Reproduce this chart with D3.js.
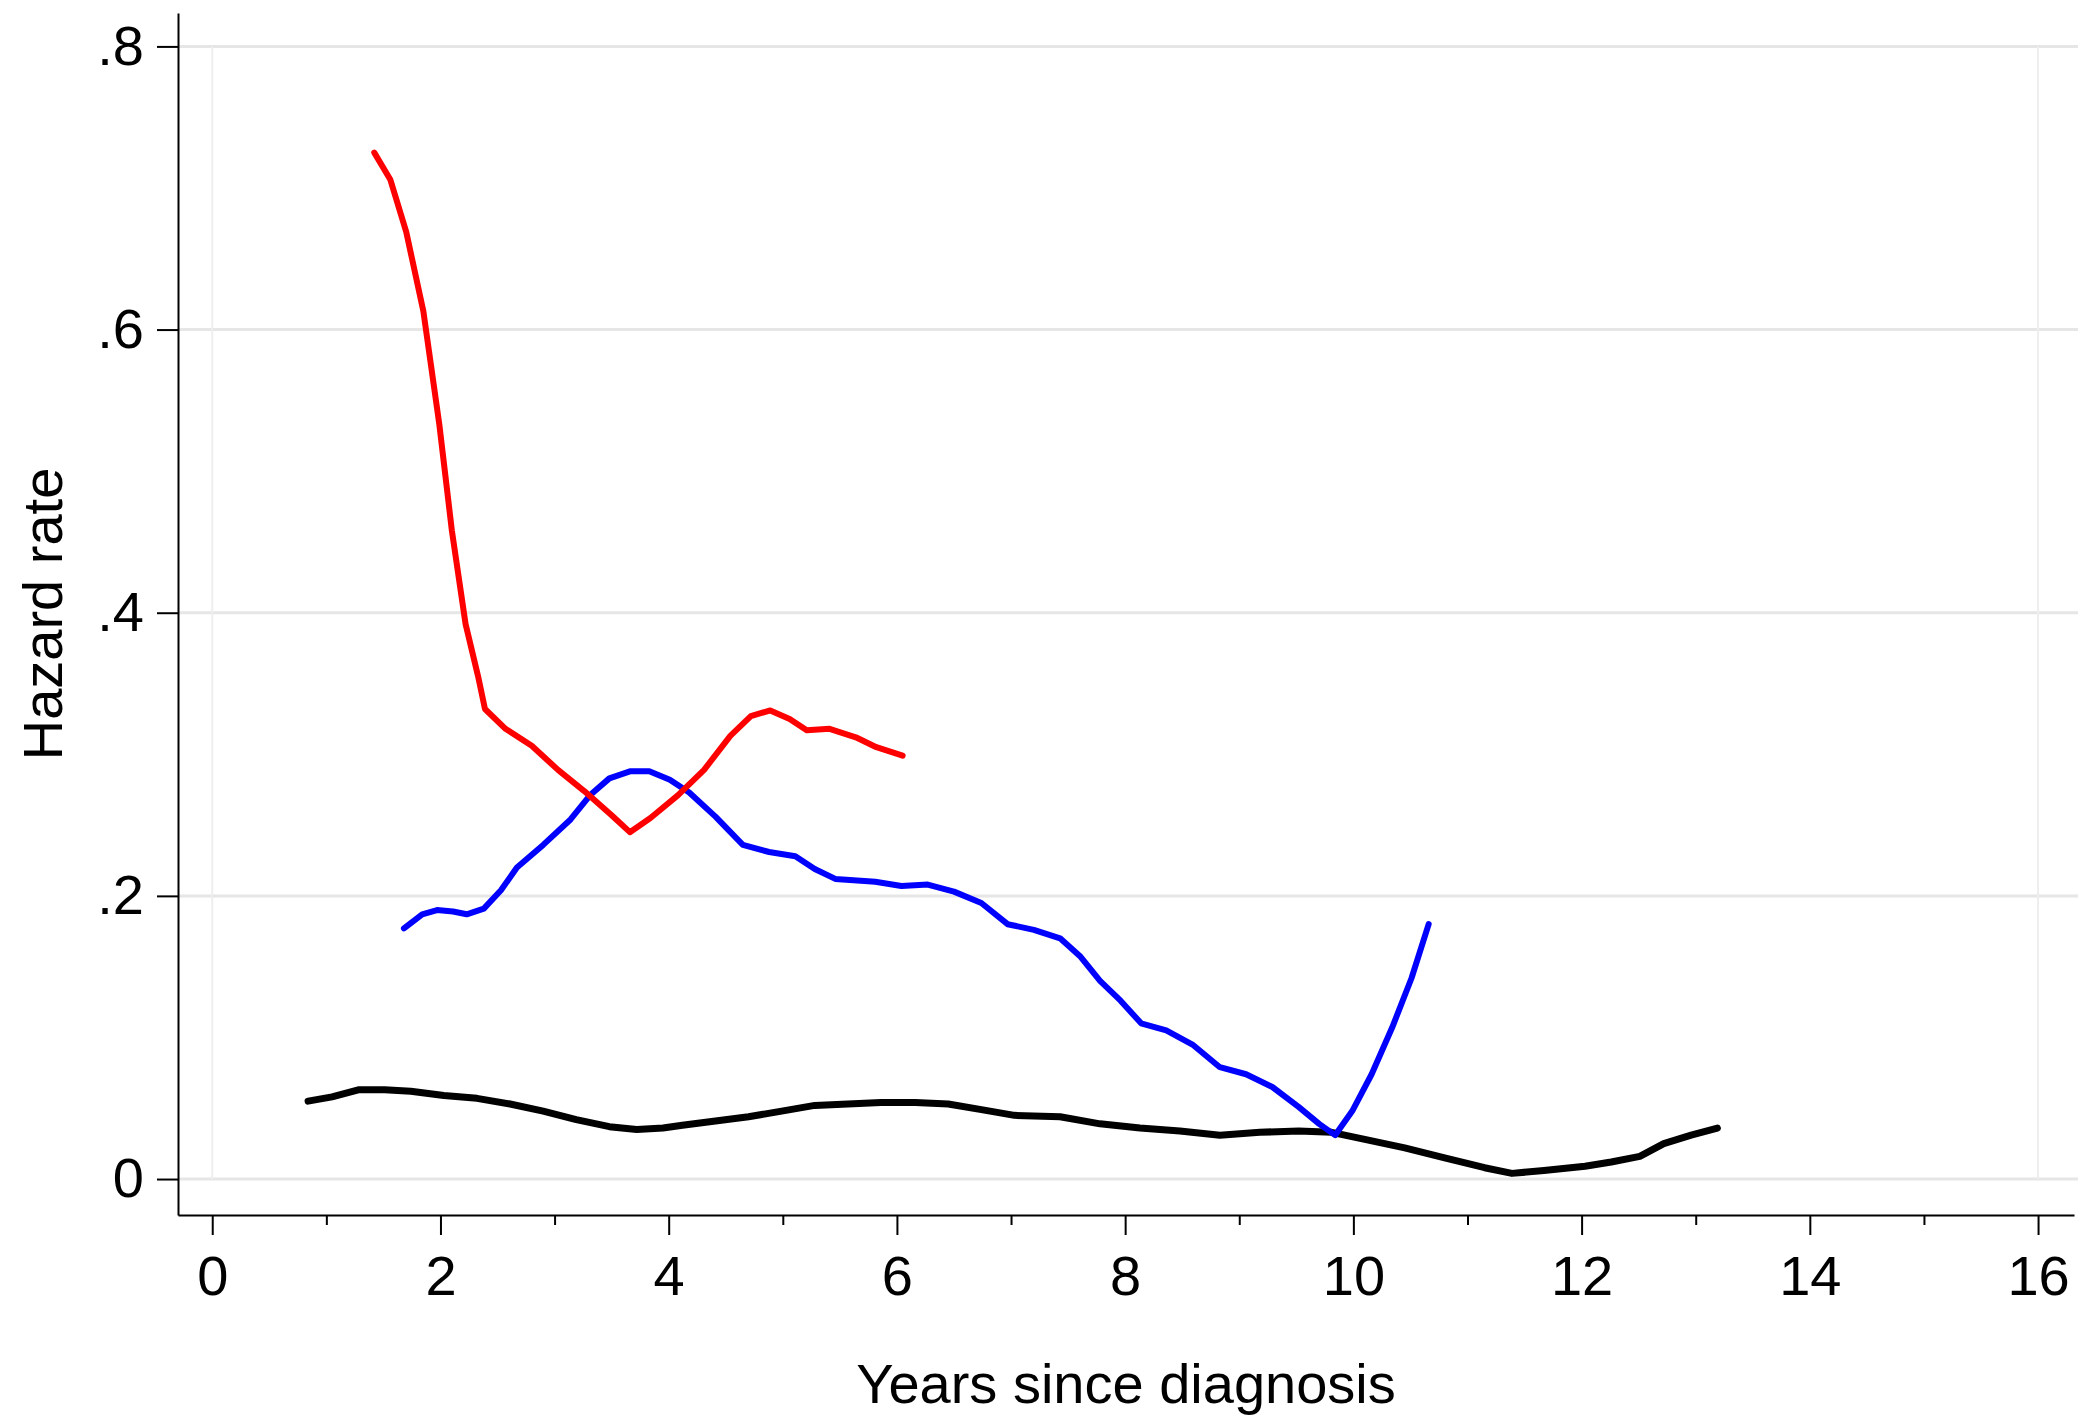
<!DOCTYPE html>
<html>
<head>
<meta charset="utf-8">
<script src="https://cdn.jsdelivr.net/npm/d3@7"></script>
<style>
  body { margin: 0; background: #fff; }
  svg { display: block; font-family: "Liberation Sans", Arial, sans-serif; }
</style>
</head>
<body>
<div id="chart"></div>
<script>
// ---- data ----
const xTicks = [0, 2, 4, 6, 8, 10, 12, 14, 16];
const xMinorTicks = [1, 3, 5, 7, 9, 11, 13, 15];
const yTicks = [0, 0.2, 0.4, 0.6, 0.8];

const redYears = [1.42, 1.56, 1.70, 1.85, 1.99, 2.10, 2.22, 2.33, 2.39, 2.57, 2.80, 3.03, 3.26, 3.50, 3.66, 3.84, 4.08, 4.31, 4.54, 4.72, 4.89, 5.06, 5.21, 5.41, 5.64, 5.82, 6.05];
const redHazard = [0.725, 0.706, 0.669, 0.613, 0.533, 0.458, 0.392, 0.355, 0.332, 0.318, 0.306, 0.289, 0.274, 0.257, 0.245, 0.255, 0.271, 0.289, 0.313, 0.327, 0.331, 0.325, 0.317, 0.318, 0.312, 0.305, 0.299];

const blueYears = [1.68, 1.84, 1.97, 2.11, 2.23, 2.38, 2.53, 2.67, 2.90, 3.14, 3.31, 3.48, 3.66, 3.83, 4.01, 4.18, 4.41, 4.65, 4.88, 5.11, 5.28, 5.46, 5.81, 6.04, 6.27, 6.50, 6.74, 6.97, 7.20, 7.43, 7.61, 7.78, 7.96, 8.14, 8.36, 8.59, 8.83, 9.06, 9.29, 9.52, 9.70, 9.84, 9.99, 10.16, 10.34, 10.51, 10.66];
const blueHazard = [0.177, 0.187, 0.190, 0.189, 0.187, 0.191, 0.204, 0.220, 0.236, 0.254, 0.271, 0.283, 0.288, 0.288, 0.282, 0.273, 0.256, 0.236, 0.231, 0.228, 0.219, 0.212, 0.210, 0.207, 0.208, 0.203, 0.195, 0.180, 0.176, 0.170, 0.157, 0.140, 0.126, 0.110, 0.105, 0.095, 0.079, 0.074, 0.065, 0.051, 0.039, 0.031, 0.048, 0.074, 0.107, 0.142, 0.180];

const blackYears = [0.84, 1.05, 1.28, 1.51, 1.74, 2.03, 2.32, 2.61, 2.90, 3.19, 3.48, 3.72, 3.95, 4.12, 4.41, 4.70, 4.99, 5.28, 5.57, 5.86, 6.16, 6.45, 6.74, 7.03, 7.43, 7.78, 8.13, 8.48, 8.83, 9.18, 9.52, 9.81, 10.10, 10.45, 10.80, 11.15, 11.39, 11.67, 12.03, 12.26, 12.51, 12.72, 12.96, 13.19];
const blackHazard = [0.055, 0.058, 0.063, 0.063, 0.062, 0.059, 0.057, 0.053, 0.048, 0.042, 0.037, 0.035, 0.036, 0.038, 0.041, 0.044, 0.048, 0.052, 0.053, 0.054, 0.054, 0.053, 0.049, 0.045, 0.044, 0.039, 0.036, 0.034, 0.031, 0.033, 0.034, 0.033, 0.028, 0.022, 0.015, 0.008, 0.004, 0.006, 0.009, 0.012, 0.016, 0.025, 0.031, 0.036];

const series = [
  {name: 'black', years: blackYears, hazard: blackHazard, color: '#000000', width: 7},
  {name: 'blue', years: blueYears, hazard: blueHazard, color: '#0000ff', width: 6},
  {name: 'red', years: redYears, hazard: redHazard, color: '#ff0000', width: 6},
];

// ---- layout ----
const width = 2078, height = 1418;
const plot = {l: 178, r: 2074, t: 13, b: 1215};

const svg = d3.select('#chart').append('svg')
  .attr('width', width)
  .attr('height', height);

const x = d3.scaleLinear().domain([-0.3, 16.315]).range([plot.l, plot.r]);
const y = d3.scaleLinear().domain([-0.0254, 0.8236]).range([plot.b, plot.t]);

// gridlines
svg.append('g').selectAll('line')
  .data(yTicks)
  .join('line')
  .attr('x1', plot.l).attr('x2', width)
  .attr('y1', d => y(d)).attr('y2', d => y(d))
  .attr('stroke', '#e6e6e6')
  .attr('stroke-width', 3);

svg.append('g').selectAll('line')
  .data([0, 16])
  .join('line')
  .attr('x1', d => x(d)).attr('x2', d => x(d))
  .attr('y1', y(0.8)).attr('y2', y(0))
  .attr('stroke', '#eeeeee')
  .attr('stroke-width', 2);

// lines
const line = d3.line()
  .x(d => x(d[0]))
  .y(d => y(d[1]));

svg.append('g').selectAll('path')
  .data(series)
  .join('path')
  .attr('d', s => line(d3.zip(s.years, s.hazard)))
  .attr('fill', 'none')
  .attr('stroke', s => s.color)
  .attr('stroke-width', s => s.width)
  .attr('stroke-linejoin', 'round')
  .attr('stroke-linecap', 'round');

// axes
const fmtY = d => d === 0 ? '0' : d3.format('.1f')(d).replace(/^0/, '');

svg.append('g')
  .attr('transform', `translate(${plot.l},0)`)
  .call(d3.axisLeft(y).tickValues(yTicks).tickFormat(fmtY).tickSize(21).tickSizeOuter(0).tickPadding(13));

svg.append('g')
  .attr('transform', `translate(0,${plot.b})`)
  .call(d3.axisBottom(x).tickValues(xTicks).tickFormat(d3.format('d')).tickSize(20).tickSizeOuter(0).tickPadding(20));

svg.append('g')
  .attr('transform', `translate(0,${plot.b})`)
  .call(d3.axisBottom(x).tickValues(xMinorTicks).tickFormat('').tickSize(10).tickSizeOuter(0))
  .call(g => g.select('.domain').remove());

svg.selectAll('.domain').attr('stroke', '#000').attr('stroke-width', 2);
svg.selectAll('.tick line').attr('stroke', '#000').attr('stroke-width', 2);
svg.selectAll('.tick text')
  .attr('fill', '#000')
  .style('font-family', '"Liberation Sans", Arial, sans-serif')
  .style('font-size', '56px');

// axis titles
svg.append('text')
  .attr('x', (plot.l + plot.r) / 2)
  .attr('y', 1403)
  .attr('text-anchor', 'middle')
  .attr('font-size', 56)
  .attr('fill', '#000')
  .text('Years since diagnosis');

svg.append('text')
  .attr('transform', `translate(62,${(plot.t + plot.b) / 2}) rotate(-90)`)
  .attr('text-anchor', 'middle')
  .attr('font-size', 56)
  .attr('fill', '#000')
  .text('Hazard rate');
</script>
</body>
</html>
